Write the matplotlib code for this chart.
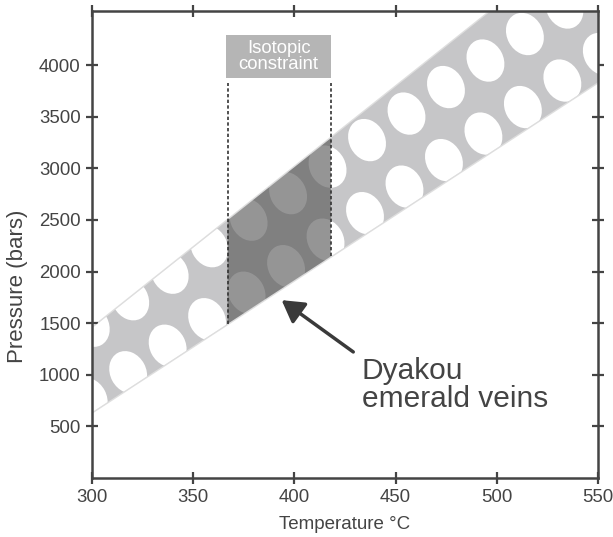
import numpy as np
import matplotlib
matplotlib.use('Agg')
import matplotlib.pyplot as plt
from matplotlib.patches import Polygon, Rectangle
from matplotlib.collections import EllipseCollection

plt.rcParams['font.family'] = ['Liberation Sans', 'DejaVu Sans']

# isochore band (T in degC, P in bars)
temp_ends = [300, 550]
p_low = [636, 3836]
p_high = [1451, 5351]

# isotopic temperature constraint
t_iso = [367, 418]
dash_top = 3826
label_box = [366.4, 418, 3879, 4293]   # T0, T1, P0, P1

# white dot texture, two rows
row_hi_start = (435.9, 3274)
row_lo_start = (434.9, 2566)
dot_step = (19.5, 257)

arrow_tip = (393.7, 1723)
arrow_tail = (429.1, 1221)
text_pos = (433.2, 1170)

ink = '#444444'


def p_at(t, line):
    return np.interp(t, temp_ends, line)


fig = plt.figure(figsize=(6.13, 5.37), dpi=100)
ax = fig.add_axes([0.150, 0.110, 0.8255, 0.8695])
ax.set_xlim(300, 550)
ax.set_ylim(0, 4525)

# band
tt = np.array(temp_ends, dtype=float)
band_xy = np.column_stack([np.r_[tt, tt[::-1]],
                           np.r_[p_at(tt, p_low), p_at(tt[::-1], p_high)]])
band = Polygon(band_xy, closed=True, facecolor='#c6c6c8', edgecolor='none', zorder=2)
ax.add_patch(band)
ax.plot(tt, p_at(tt, p_low), color='#dedede', lw=2.0, zorder=1, solid_capstyle='butt')
ax.plot(tt, p_at(tt, p_high), color='#dedede', lw=2.0, zorder=1, solid_capstyle='butt')

# dots texture clipped to band
ks = np.arange(-9, 8)
centers = []
for start in (row_hi_start, row_lo_start):
    for k in ks:
        centers.append((start[0] + dot_step[0] * k, start[1] + dot_step[1] * k))
centers = np.array(centers)
n = len(centers)
dots = EllipseCollection(np.full(n, 44.0), np.full(n, 36.0), np.full(n, -62.0),
                         units='dots', offsets=centers, offset_transform=ax.transData,
                         facecolors='white', edgecolors='none', zorder=3)
ax.add_collection(dots)
dots.set_clip_path(band)

# constrained region
ti = np.array(t_iso, dtype=float)
dark_xy = np.column_stack([np.r_[ti, ti[::-1]],
                           np.r_[p_at(ti, p_low), p_at(ti[::-1], p_high)]])
ax.add_patch(Polygon(dark_xy, closed=True, facecolor='#555555', alpha=0.62,
                     edgecolor='none', zorder=4))

for t in t_iso:
    ax.plot([t, t], [p_at(t, p_low), dash_top], color='#333333', lw=1.2,
            linestyle=(0, (2, 1.4)), zorder=5)

ax.add_patch(Rectangle((label_box[0], label_box[2]), label_box[1] - label_box[0],
                       label_box[3] - label_box[2], facecolor='#b5b5b5',
                       edgecolor='none', zorder=5))
ax.text((label_box[0] + label_box[1]) / 2, (label_box[2] + label_box[3]) / 2,
        'Isotopic\nconstraint', color='white', fontsize=13.3, ha='center',
        va='center', linespacing=0.95, zorder=6)

ax.annotate('', xy=arrow_tip, xytext=arrow_tail,
            arrowprops=dict(arrowstyle='-|>,head_length=0.6,head_width=0.35',
                            color='#3a3a3a', lw=2.5, mutation_scale=22,
                            shrinkA=0, shrinkB=0), zorder=6)
ax.text(text_pos[0], text_pos[1], 'Dyakou\nemerald veins', color=ink,
        fontsize=21.5, ha='left', va='top', linespacing=1.0, zorder=6)

ax.set_xticks([300, 350, 400, 450, 500, 550])
ax.set_yticks([500, 1000, 1500, 2000, 2500, 3000, 3500, 4000])
ax.tick_params(direction='inout', length=8, width=1.6, top=True, right=True,
               color=ink, labelcolor=ink, labelsize=13.4, pad=4)
for s in ax.spines.values():
    s.set_color(ink)
    s.set_linewidth(1.8)
    s.set_zorder(7)

ax.set_xlabel('Temperature °C', fontsize=13.5, color=ink, labelpad=7)
ax.set_ylabel('Pressure (bars)', fontsize=16, color=ink)
ax.yaxis.set_label_coords(-0.127, 0.411)

fig.savefig('out.png', dpi=100)
